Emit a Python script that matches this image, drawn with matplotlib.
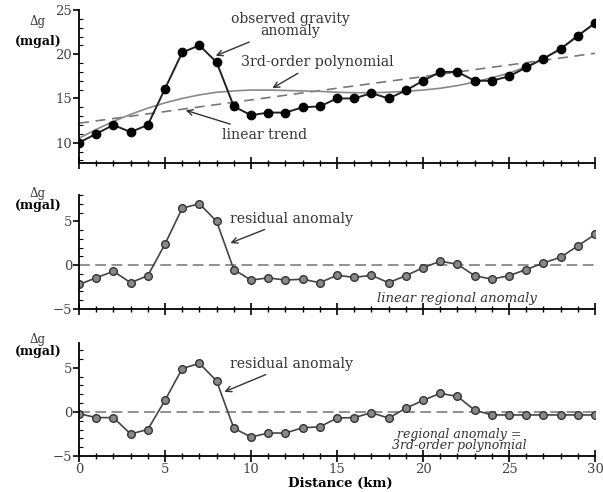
import numpy as np
import matplotlib.pyplot as plt
from matplotlib.ticker import MultipleLocator

plt.rcParams['font.family'] = ['DejaVu Serif']

# distance along profile (km)
dist = np.arange(0, 31)

# observed gravity anomaly (mgal)
observed = [10.0, 11.0, 12.0, 11.2, 12.0, 16.1, 20.2, 21.0, 19.1, 14.1,
            13.1, 13.4, 13.4, 14.0, 14.1, 15.0, 15.0, 15.6, 15.0, 15.9,
            17.0, 18.0, 18.0, 17.0, 17.0, 17.5, 18.5, 19.5, 20.6, 22.1, 23.5]

# 3rd-order polynomial regional
poly3 = [10.5, 11.5, 12.4, 13.2, 13.9, 14.5, 15.0, 15.4, 15.7, 15.85,
         15.95, 15.95, 15.9, 15.85, 15.8, 15.7, 15.65, 15.65, 15.7, 15.8,
         15.95, 16.15, 16.45, 16.85, 17.35, 17.85, 18.6, 19.5, 20.6, 22.0, 23.6]

# linear trend end points
lin_x = [0, 30]
lin_y = [12.2, 20.1]

# residual after removing linear regional
resid_lin = [-2.2, -1.45, -0.7, -2.0, -1.2, 2.4, 6.5, 7.0, 5.0, -0.5,
             -1.7, -1.45, -1.7, -1.6, -2.0, -1.15, -1.4, -1.15, -2.0, -1.2,
             -0.3, 0.45, 0.1, -1.2, -1.6, -1.2, -0.5, 0.25, 0.9, 2.2, 3.5]

# residual after removing 3rd-order polynomial regional
resid_poly = [-0.2, -0.65, -0.65, -2.5, -2.0, 1.3, 4.9, 5.5, 3.5, -1.85,
              -2.85, -2.4, -2.4, -1.8, -1.7, -0.7, -0.65, -0.1, -0.7, 0.4,
              1.3, 2.1, 1.75, 0.2, -0.35, -0.35, -0.35, -0.35, -0.35, -0.35, -0.35]

W, H = 603, 492
fig = plt.figure(figsize=(W / 100, H / 100), dpi=100)

def px_axes(x0, y0, x1, y1):
    return fig.add_axes([x0 / W, 1 - y1 / H, (x1 - x0) / W, (y1 - y0) / H])

def px_text(x, y, s, **kw):
    fig.text(x / W, 1 - y / H, s, ha='center', va='center', **kw)

ax1 = px_axes(79, 10, 595, 163)
ax2 = px_axes(79, 195, 595, 309)
ax3 = px_axes(79, 343, 595, 456)

for ax in (ax1, ax2, ax3):
    ax.set_xlim(0, 30)
    for s in ('top', 'right'):
        ax.spines[s].set_visible(False)
    ax.spines['left'].set_linewidth(1.3)
    ax.spines['bottom'].set_linewidth(1.3)
    ax.xaxis.set_major_locator(MultipleLocator(5))
    ax.xaxis.set_minor_locator(MultipleLocator(1))
    ax.tick_params(axis='x', which='major', direction='inout', length=8, width=1.2,
                   labelsize=9.5, pad=1, labelcolor='#444444')
    ax.tick_params(axis='x', which='minor', direction='inout', length=5, width=1.0)
    ax.tick_params(axis='y', which='major', direction='out', length=4, width=1.2,
                   labelsize=9.5, pad=1, labelcolor='#444444')
    ax.tick_params(axis='y', which='minor', direction='in', length=3, width=0.8)
    ax.yaxis.set_minor_locator(MultipleLocator(1))

for ax in (ax1, ax2):
    ax.tick_params(axis='x', labelbottom=False)

# y-axis labels, placed above the tick labels as in the original
for yd, ym in [(21, 41), (194, 206), (339, 352)]:
    px_text(38, yd, 'Δg', fontsize=8.5, color='#333333')
    px_text(38, ym, '(mgal)', fontsize=9, fontweight='bold')

arrow = dict(arrowstyle='->', color='#333333', lw=1.0)

# top panel
ax1.set_ylim(7.7, 25)
ax1.set_yticks([10, 15, 20, 25])
ax1.plot(lin_x, lin_y, ls=(0, (6, 4)), color='#777777', lw=1.2)
ax1.plot(dist, poly3, color='#888888', lw=1.2)
ax1.plot(dist, observed, color='#222222', lw=1.4, marker='o', ms=6,
         mfc='black', mec='black')
ax1.annotate('observed gravity\nanomaly', xy=(7.8, 19.7), xytext=(12.3, 23.3),
             ha='center', va='center', fontsize=10, linespacing=0.85,
             color='#333333', arrowprops=arrow)
ax1.annotate('3rd-order polynomial', xy=(11.1, 16.0), xytext=(9.4, 19.1),
             ha='left', va='center', fontsize=10.2, color='#333333',
             arrowprops=arrow)
ax1.annotate('linear trend', xy=(6.05, 13.75), xytext=(8.3, 10.9),
             ha='left', va='center', fontsize=10.2, color='#333333',
             arrowprops=arrow)

# middle panel
ax2.set_ylim(-5, 8)
ax2.set_yticks([-5, 0, 5])
ax2.set_yticklabels(['−5', '0', '5'])
ax2.axhline(0, ls=(0, (6, 3)), color='#888888', lw=1.3)
ax2.plot(dist, resid_lin, color='#444444', lw=1.2, marker='o', ms=5.5,
         mfc='#888888', mec='#333333')
ax2.annotate('residual anomaly', xy=(8.65, 2.4), xytext=(8.8, 5.3),
             ha='left', va='center', fontsize=10.2, color='#333333',
             arrowprops=arrow)
ax2.text(22.0, -3.75, 'linear regional anomaly', ha='center', va='center',
         fontsize=9.5, style='italic', color='#333333')

# bottom panel
ax3.set_ylim(-5, 7.8)
ax3.set_yticks([-5, 0, 5])
ax3.set_yticklabels(['−5', '0', '5'])
ax3.axhline(0, ls=(0, (6, 3)), color='#888888', lw=1.3)
ax3.plot(dist, resid_poly, color='#444444', lw=1.2, marker='o', ms=5.5,
         mfc='#888888', mec='#333333')
ax3.annotate('residual anomaly', xy=(8.3, 2.15), xytext=(8.8, 5.45),
             ha='left', va='center', fontsize=10.2, color='#333333',
             arrowprops=arrow)
ax3.text(22.1, -3.2, 'regional anomaly =\n3rd-order polynomial', ha='center',
         va='center', fontsize=9, style='italic', linespacing=0.85,
         color='#333333')

px_text(340, 483, 'Distance (km)', fontsize=9.5, fontweight='bold')

fig.savefig('out.png', dpi=100)
